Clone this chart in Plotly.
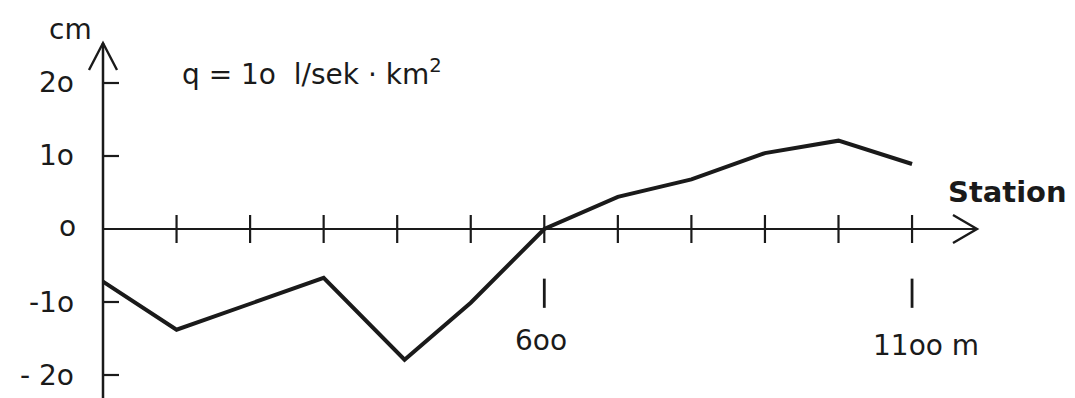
import plotly.graph_objects as go

# ---- data ----
stations = [0, 100, 300, 410, 500, 600, 700, 800, 900, 1000, 1100]   # m
values = [-7.2, -13.8, -6.7, -17.9, -10.1, 0.0, 4.4, 6.8, 10.4, 12.1, 8.9]  # cm
tick_stations = [100, 200, 300, 400, 500, 600, 700, 800, 900, 1000, 1100]
y_ticks = [-20, -10, 10, 20]
y_tick_labels = ["- 2o", "-1o", "1o", "2o"]

W, H = 1075, 398
X0PX, Y0PX = 103, 229          # pixel of origin
MPX = 1 / 0.7355                # metres per pixel
CPX = 1 / 7.3                   # cm per pixel
xr = [-X0PX * MPX, (W - X0PX) * MPX]
yr = [-(H - Y0PX) * CPX, Y0PX * CPX]

INK = "#1a1a1a"
FONT = "DejaVu Sans"

fig = go.Figure()

# data line
fig.add_trace(go.Scatter(x=stations, y=values, mode="lines",
                         line=dict(color=INK, width=4), hoverinfo="skip"))
# x-axis tick marks
fig.add_trace(go.Scatter(x=tick_stations, y=[0] * len(tick_stations), mode="markers",
                         marker=dict(symbol="line-ns", size=20,
                                     line=dict(color=INK, width=2.2)),
                         hoverinfo="skip"))

shapes = []
# x axis line + chevron
x_tip = (977 - X0PX) * MPX
shapes.append(dict(type="line", x0=0, x1=x_tip, y0=0, y1=0,
                   line=dict(color=INK, width=2.2)))
xa = x_tip - 24 * MPX
dy = 14 * CPX
shapes.append(dict(type="path",
                   path=f"M {xa},{dy} L {x_tip},0 L {xa},{-dy}",
                   line=dict(color=INK, width=2.4)))
# y axis line + chevron
y_tip = (Y0PX - 43) * CPX
shapes.append(dict(type="line", x0=0, x1=0, y0=yr[0], y1=y_tip,
                   line=dict(color=INK, width=2.5)))
ya = y_tip - 27 * CPX
dx = 14 * MPX
shapes.append(dict(type="path",
                   path=f"M {-dx},{ya} L 0,{y_tip} L {dx},{ya}",
                   line=dict(color=INK, width=2.4)))
# y ticks (right side)
for v in y_ticks:
    shapes.append(dict(type="line", x0=0, x1=16 * MPX, y0=v, y1=v,
                       line=dict(color=INK, width=2.2)))
# marker bars below 600 and 1100
for s in (600, 1100):
    shapes.append(dict(type="line", x0=s, x1=s, y0=-6.8, y1=-10.8,
                       line=dict(color=INK, width=2.8)))

ann = []
def label(text, px, py, size=28, xanchor="center", bold=False):
    ann.append(dict(text=f"<b>{text}</b>" if bold else text,
                    x=px / W, y=1 - py / H, xref="paper", yref="paper",
                    xanchor=xanchor, yanchor="middle", showarrow=False,
                    font=dict(family=FONT, size=size, color=INK)))

label("cm", 70, 30)
label("o", 67, 226)
for v, t in zip(y_ticks, y_tick_labels):
    py = Y0PX - v / CPX
    label(t, 76, py, xanchor="right")
label("q = 1o  l/sek · km<sup>2</sup>", 180, 73, xanchor="left")
label("6oo", 541, 340)
label("11oo m", 926, 345)
label("Station", 1007, 192, size=29, bold=True)

fig.update_layout(
    width=W, height=H,
    margin=dict(l=0, r=0, t=0, b=0),
    paper_bgcolor="white", plot_bgcolor="white",
    showlegend=False,
    xaxis=dict(range=xr, visible=False, fixedrange=True),
    yaxis=dict(range=yr, visible=False, fixedrange=True),
    shapes=shapes, annotations=ann,
)

fig.write_html("out.html",
               config={"displayModeBar": False, "staticPlot": True},
               post_script="document.body.style.margin='0';document.body.style.overflow='hidden';")
